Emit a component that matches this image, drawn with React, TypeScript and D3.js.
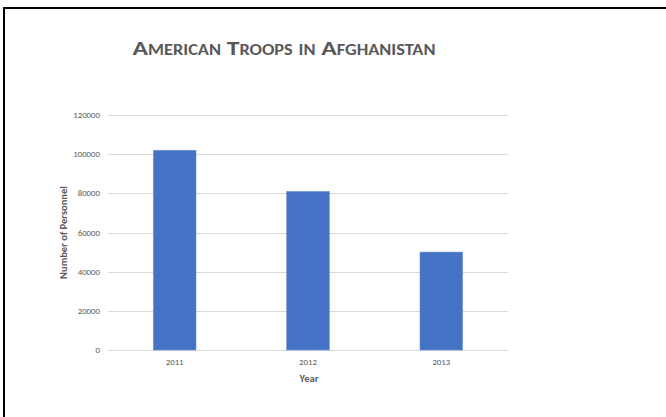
import React from "react";
import * as d3 from "d3";

const years = ["2011", "2012", "2013"];
const troops = [102000, 81000, 50000];
const yTicks = [0, 20000, 40000, 60000, 80000, 100000, 120000];
const title = "American Troops in Afghanistan";
const xTitle = "Year";
const yTitle = "Number of Personnel";

export default function App() {
  const W = 666, H = 417;
  const left = 108, right = 508, top = 115, bottom = 350;
  const x = d3.scaleBand().domain(years).range([left, right]).paddingInner(0.68).paddingOuter(0.34);
  const y = d3.scaleLinear().domain([0, 120000]).range([bottom, top]);
  const font = "Calibri, Carlito, 'Open Sans', sans-serif";
  return (
    <svg width={W} height={H} style={{ position: "absolute", left: 0, top: 0 }} fontFamily={font}>
      <rect x={0} y={0} width={W} height={H} fill="#fff" />
      <line x1={3} x2={666} y1={8} y2={8} stroke="#000" strokeWidth={2} />
      <line x1={4} x2={4} y1={7} y2={417} stroke="#000" strokeWidth={2} />
      <text x={284} y={55} textAnchor="middle" fill="#595959" fontSize={21} fontWeight="bold"
        style={{ fontVariant: "small-caps" }} textLength={303} lengthAdjust="spacingAndGlyphs">{title}</text>
      {yTicks.map((t) => (
        <g key={t}>
          <line x1={left} x2={right} y1={Math.round(y(t)) + 0.5} y2={Math.round(y(t)) + 0.5} stroke="#d9d9d9" strokeWidth={1} />
          <text x={100} y={y(t)} dy="0.35em" textAnchor="end" fill="#595959" fontSize={8.8}>{t}</text>
        </g>
      ))}
      {years.map((yr, i) => (
        <g key={yr}>
          <rect x={x(yr)} y={y(troops[i])} width={x.bandwidth()} height={bottom - y(troops[i])} fill="#4472C4" stroke="#6d93d6" strokeWidth={0.6} />
          <text x={(x(yr) as number) + x.bandwidth() / 2} y={362} dy="0.35em" textAnchor="middle" fill="#595959" fontSize={8.8}>{yr}</text>
        </g>
      ))}
      <text x={309} y={378} dy="0.35em" textAnchor="middle" fill="#595959" fontSize={10.5} fontWeight="bold">{xTitle}</text>
      <text transform={`translate(63,${(top + bottom) / 2}) rotate(-90)`} dy="0.35em" textAnchor="middle" fill="#595959" fontSize={10.5} fontWeight="bold">{yTitle}</text>
    </svg>
  );
}
